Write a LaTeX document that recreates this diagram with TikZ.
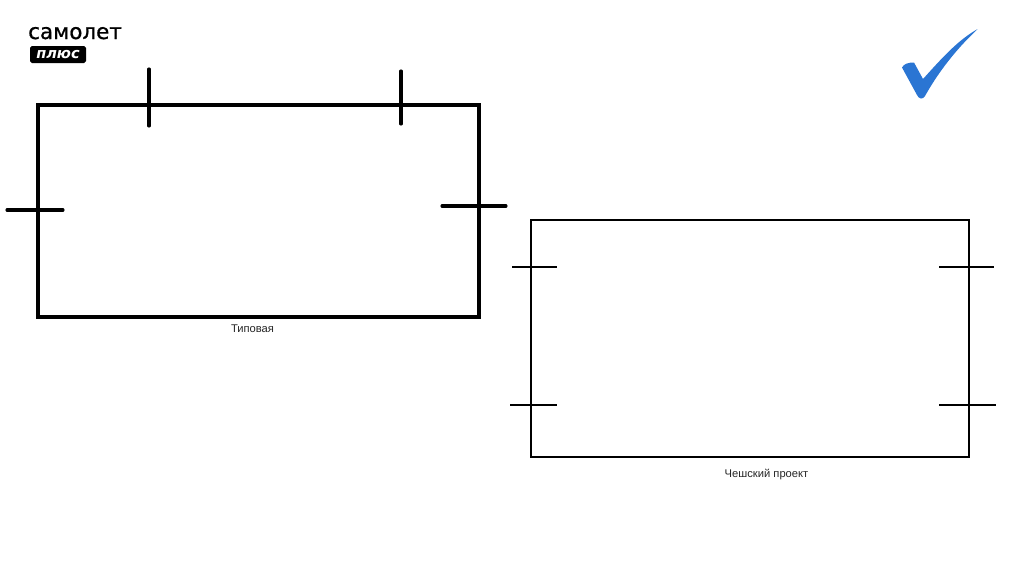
\documentclass[tikz,border=0pt]{standalone}
\usepackage{fontspec}
\setmainfont{Liberation Sans}
\newfontfamily\logofont[FakeBold=0.8]{DejaVu Sans}
\newfontfamily\plusfont{DejaVu Sans}
\usepackage{xcolor}
\definecolor{checkblue}{HTML}{2A75D3}
\usetikzlibrary{positioning}
\tikzset{
    plan/.style={draw=black, line width=2.6pt},
    plantick/.style={draw=black, line width=2.6pt, line cap=round},
    chech/.style={draw=black, line width=2.1pt},
    chechtick/.style={draw=black, line width=1.6pt},
    caption/.style={font=\fontsize{9.55pt}{11pt}\selectfont, text=black!85, inner sep=0pt},
}
\begin{document}
\begin{tikzpicture}[x=0.03cm,y=-0.03cm]
\useasboundingbox (0,0) rectangle (1024,574);
\fill[white] (0,0) rectangle (1024,574);

% logo
\node[font=\logofont\fontsize{18.3pt}{20pt}\selectfont, anchor=base west, inner sep=0pt] (logoname) at (28,39) {самолет};
\fill[black, rounded corners=1.6pt] (30,46) rectangle (86,63);
\node[font=\plusfont\bfseries\itshape\fontsize{12.4pt}{14pt}\selectfont, text=white, inner sep=0pt] (logoplus) at (58,54.5) {плюс};

% check mark
\fill[checkblue] (977.7,29) .. controls (958,40) and (942,58) .. (923,79)
    -- (914,62.5) .. controls (909,62.5) and (904,63.5) .. (902,67.5)
    -- (917,95) .. controls (919,99.5) and (923,99.5) .. (925,96)
    .. controls (934,80) and (950,55) .. cycle;

% typical
\draw[plan] (38,105) rectangle (479,317);
\foreach \xa/\ya/\xb/\yb in {149/69/149/126,401/71/401/124,7/210/63/210,442/206/506/206} {
    \draw[plantick] (\xa,\ya) -- (\xb,\yb);
}
\node[caption] (typical) at (252.5,328.5) {Типовая};

% czech
\draw[chech] (531,220) rectangle (969,457);
\foreach \xa/\xb/\y in {512/557/267,510/557/405,939/994/267,939/996/405} {
    \draw[chechtick] (\xa,\y) -- (\xb,\y);
}
\node[caption] (czech) at (766.5,474) {Чешский проект};
\end{tikzpicture}
\end{document}
